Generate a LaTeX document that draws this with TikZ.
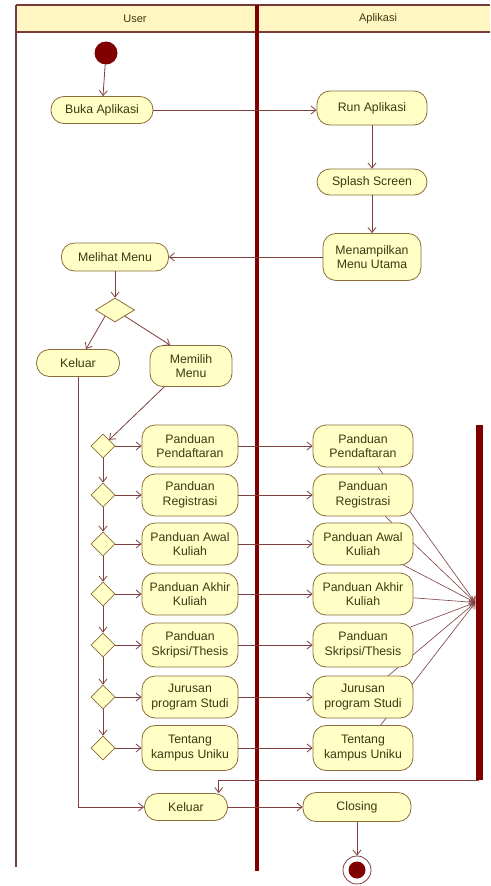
\documentclass[tikz,border=0pt]{standalone}
\usepackage{fontspec}
\setmainfont{Liberation Sans}
\usetikzlibrary{arrows.meta,shapes.geometric,backgrounds}
\definecolor{ln}{HTML}{7F3F3F}
\definecolor{nfill}{HTML}{FFFFC6}
\definecolor{nborder}{HTML}{8A6D3B}
\definecolor{ntext}{HTML}{3A3A12}
\definecolor{dred}{HTML}{800000}
\definecolor{hdr}{HTML}{FFF6C2}
\definecolor{lanec}{HTML}{7A3A3A}
\begin{document}
\begin{tikzpicture}[x=1pt,y=-1pt,
  act/.style={draw=nborder, fill=nfill, rounded corners=13pt, align=center, text=ntext,
    font=\fontsize{12.3}{14.5}\selectfont, inner sep=1pt, line width=0.8pt},
  lact/.style={act, minimum width=96pt, minimum height=42pt},
  ract/.style={act, minimum width=100pt, minimum height=42pt},
  dec/.style={diamond, draw=nborder, fill=nfill, inner sep=0pt, line width=0.8pt,
    minimum width=24pt, minimum height=24pt},
  flow/.style={draw=ln, line width=0.8pt, -{Straight Barb[length=5pt,width=8pt]}},
  hdrtext/.style={text=ntext, font=\fontsize{11}{12}\selectfont, inner sep=1pt},
  lane/.style={draw=lanec, line width=1.6pt},
  midlane/.style={draw=dred, line width=3.2pt}]
\useasboundingbox (0,0) rectangle (490,886);
\begin{scope}[on background layer]
\fill[white] (0,0) rectangle (490,886);
\end{scope}
% frame
\fill[hdr] (16,5) rectangle (490,32);
\draw[lane] (16,5) -- (490,5);
\draw[lane,line width=1.2pt] (16,32) -- (490,32);
\draw[lane] (16,5) -- (16,867);
\draw[midlane] (257,5) -- (257,871);
\node[hdrtext] (hu) at (135,19) {User};
\node[hdrtext] (ha) at (378,19) {Aplikasi};
% nodes
\node[circle, fill=dred, minimum size=23pt, inner sep=0pt] (start) at (106,53) {};
\node[act, minimum width=102pt, minimum height=27pt] (buka) at (102,110) {Buka Aplikasi};
\node[act, minimum width=110pt, minimum height=34pt] (run) at (372,108) {Run Aplikasi};
\node[act, minimum width=110pt, minimum height=26pt] (splash) at (372,182) {Splash Screen};
\node[act, minimum width=98pt, minimum height=47pt] (menu) at (372,257) {Menampilkan\\Menu Utama};
\node[act, minimum width=107pt, minimum height=28pt] (melihat) at (115,257) {Melihat Menu};
\node[dec, minimum width=39pt, minimum height=24pt] (dec0) at (115,310) {};
\node[act, minimum width=83pt, minimum height=27pt] (keluar1) at (78,363) {Keluar};
\node[act, minimum width=82pt, minimum height=41pt] (memilih) at (191,366) {Memilih\\Menu};
% rows
\node[dec] (d1) at (103,446) {};
\node[dec] (d2) at (103,495) {};
\node[dec] (d3) at (103,544) {};
\node[dec] (d4) at (103,594) {};
\node[dec] (d5) at (103,645) {};
\node[dec] (d6) at (103,697) {};
\node[dec] (d7) at (103,748) {};
\node[lact] (l1) at (190,446) {Panduan\\Pendaftaran};
\node[lact] (l2) at (190,495) {Panduan\\Registrasi};
\node[lact] (l3) at (190,544) {Panduan Awal\\Kuliah};
\node[lact] (l4) at (190,594) {Panduan Akhir\\Kuliah};
\node[lact, minimum height=44pt] (l5) at (190,645) {Panduan\\Skripsi/Thesis};
\node[lact] (l6) at (190,697) {Jurusan\\program Studi};
\node[lact, minimum height=45pt] (l7) at (190,748) {Tentang\\kampus Uniku};
\node[ract] (r1) at (363,446) {Panduan\\Pendaftaran};
\node[ract] (r2) at (363,495) {Panduan\\Registrasi};
\node[ract] (r3) at (363,544) {Panduan Awal\\Kuliah};
\node[ract] (r4) at (363,594) {Panduan Akhir\\Kuliah};
\node[ract, minimum height=44pt] (r5) at (363,645) {Panduan\\Skripsi/Thesis};
\node[ract] (r6) at (363,697) {Jurusan\\program Studi};
\node[ract, minimum height=45pt] (r7) at (363,748) {Tentang\\kampus Uniku};
\node[fill=dred, minimum width=7pt, minimum height=355pt, inner sep=0pt] (bar) at (479,602.5) {};
\node[act, minimum width=83pt, minimum height=27pt] (keluar2) at (186,807) {Keluar};
\node[act, minimum width=108pt, minimum height=29pt] (closing) at (357,807) {Closing};
\node[circle, draw=ln, fill=white, line width=0.8pt, minimum size=28pt, inner sep=0pt] (end) at (357,870) {};
\node[circle, fill=dred, minimum size=17pt, inner sep=0pt] (endin) at (end) {};
% connectors
\draw[flow] (start) -- (buka);
\draw[flow] (buka.east) -- (buka.east -| run.west);
\draw[flow] (run) -- (splash);
\draw[flow] (splash) -- (menu);
\draw[flow] (menu.west) -- (menu.west -| melihat.east);
\draw[flow] (melihat) -- (dec0);
\draw[flow] (dec0.south west) -- (keluar1.60);
\draw[flow] (dec0.south east) -- (memilih.135);
\draw[flow] (memilih.218) -- (d1.north east);
\foreach \i/\j in {1/2,2/3,3/4,4/5,5/6,6/7}{
  \draw[flow] (d\i) -- (d\j);
}
\foreach \i in {1,...,7}{
  \draw[flow] (d\i) -- (l\i);
  \draw[flow] (l\i) -- (r\i);
}
\begin{scope}[on background layer]
\foreach \i in {1,...,7}{
  \draw[flow, line width=0.6pt] (r\i.center) -- (bar.west);
}
\end{scope}
\draw[flow] (bar.south) -| (keluar2.23);
\draw[flow] (keluar1.south) |- (keluar2.west);
\draw[flow] (keluar2) -- (closing);
\draw[flow] (closing) -- (end);
\end{tikzpicture}
\end{document}
